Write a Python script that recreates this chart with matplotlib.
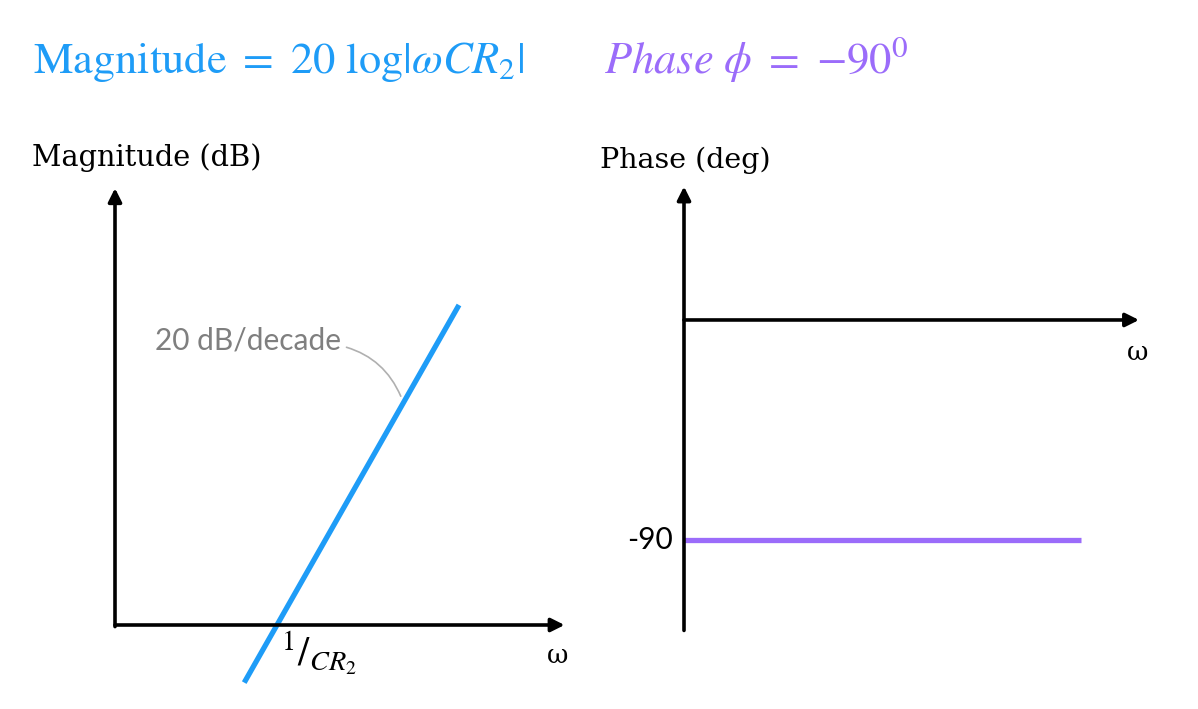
import matplotlib
matplotlib.use("Agg")
import matplotlib.pyplot as plt

# dados: reta assintotica de magnitude (decadas relativas a 1/CR2) e fase constante
mag_w = [-0.18, 1.0]      # log10(w*C*R2)
mag_db = [-3.6, 20.0]     # 20 dB/decade
fase_w = [0.0, 2.18]
fase_deg = [-90, -90]

azul = "#1e9cf7"
roxo = "#9b6cfa"

plt.rcParams["mathtext.fontset"] = "stix"

W, H = 1198, 709
fig = plt.figure(figsize=(W / 100, H / 100), dpi=100)


def eixo_px(x0, x1, y0, y1, xlim, ylim):
    # cria eixo a partir de uma caixa em pixels (y medido de cima)
    ax = fig.add_axes([x0 / W, 1 - y1 / H, (x1 - x0) / W, (y1 - y0) / H])
    ax.set_xlim(*xlim)
    ax.set_ylim(*ylim)
    ax.set_axis_off()
    return ax


seta = dict(arrowstyle="-|>", lw=2.6, color="black", mutation_scale=20, shrinkA=0, shrinkB=0)

# ---- grafico de magnitude ----
ax1 = eixo_px(115, 568.2, 177, 705, (-0.89, 1.6), (-5, 28))
ax1.annotate("", xy=(1.58, 0), xytext=(-0.89, 0), arrowprops=seta)
ax1.annotate("", xy=(-0.89, 27.3), xytext=(-0.89, -0.1), arrowprops=seta)
ax1.plot(mag_w, mag_db, color=azul, lw=3.8, solid_capstyle="butt")

ax1.annotate("20 dB/decade", xy=(0.68, 14.3), xytext=(-0.67, 17.8),
             fontsize=21.5, family="Lato", color="#7f7f7f", va="center", ha="left",
             arrowprops=dict(arrowstyle="-", color="#b0b0b0", lw=1.2,
                             shrinkA=2, shrinkB=0, connectionstyle="arc3,rad=-0.25",
                             relpos=(1.0, 0.3)))
ax1.text(0.02, -0.3, r"$^{1}/_{CR_2}$", fontsize=29, ha="left", va="top")
ax1.text(1.54, -1.1, "ω", fontsize=19, family="DejaVu Serif", ha="center", va="top")

fig.text(32 / W, 1 - 158 / H, "Magnitude (dB)", fontsize=20.8, family="DejaVu Serif",
         ha="left", va="center")

# ---- grafico de fase ----
ax2 = eixo_px(629.4, 1157.2, 173.3, 650, (-0.3, 2.6), (-135, 60))
ax2.annotate("", xy=(2.5, 0), xytext=(0, 0), arrowprops=seta)
ax2.annotate("", xy=(0, 54.6), xytext=(0, -127), arrowprops=seta)
ax2.plot(fase_w, fase_deg, color=roxo, lw=3.8, solid_capstyle="butt")
ax2.text(-0.06, -90, "-90", fontsize=21.5, family="Lato", ha="right", va="center")
ax2.text(2.49, -8, "ω", fontsize=19, family="DejaVu Serif", ha="center", va="top")

fig.text(600 / W, 1 - 160 / H, "Phase (deg)", fontsize=20.5, family="DejaVu Serif",
         ha="left", va="center")

# ---- titulos ----
fig.text(33 / W, 1 - 73 / H, r"$\mathrm{Magnitude}\ =\ 20\ \mathrm{log}|\omega C R_2|$",
         fontsize=32, color=azul, ha="left", va="baseline")
fig.text(604 / W, 1 - 73 / H, r"$Phase\ \phi\ =\ {-}90^0$",
         fontsize=32, color=roxo, ha="left", va="baseline")

fig.savefig("out.png", dpi=100)
